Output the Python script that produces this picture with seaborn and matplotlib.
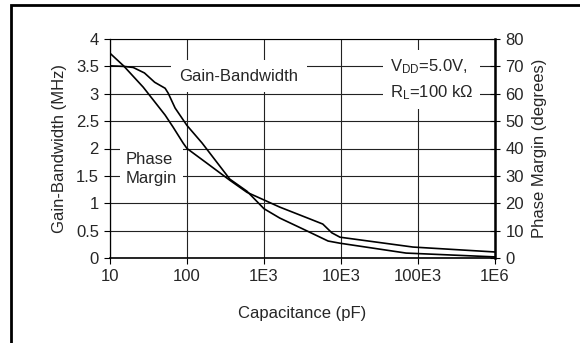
import numpy as np
import pandas as pd
import matplotlib
matplotlib.use("Agg")
import matplotlib.pyplot as plt
from matplotlib.patches import Rectangle
import seaborn as sns

# Gain-bandwidth vs load capacitance (left axis, MHz)
gbw_cap = [10, 15, 20, 28, 38, 52, 57, 70, 100, 157, 360, 600, 1000, 1600,
           3200, 6800, 9700, 70000, 1e6]
gbw_mhz = [3.51, 3.50, 3.48, 3.38, 3.21, 3.10, 3.01, 2.74, 2.42, 2.10, 1.44,
           1.22, 0.90, 0.73, 0.53, 0.31, 0.27, 0.09, 0.02]

# Phase margin vs load capacitance (right axis, degrees)
pm_cap = [10, 15, 27, 52, 66, 89, 100, 182, 360, 600, 1000, 1600, 4000, 5800,
          7600, 9700, 86000, 1e6]
pm_deg = [74.8, 70.2, 62.4, 52.2, 47.8, 42.0, 40.0, 34.6, 28.4, 24.0, 21.2,
          18.6, 14.2, 12.4, 9.2, 7.6, 4.0, 2.2]

x_ticks = [10, 100, 1e3, 1e4, 1e5, 1e6]
x_ticklabels = ["10", "100", "1E3", "10E3", "100E3", "1E6"]
left_ticks = [0, 0.5, 1, 1.5, 2, 2.5, 3, 3.5, 4]
left_ticklabels = ["0", "0.5", "1", "1.5", "2", "2.5", "3", "3.5", "4"]
right_ticks = [0, 10, 20, 30, 40, 50, 60, 70, 80]

sns.set_style("ticks")
plt.rcParams['font.family'] = ['Liberation Sans', 'DejaVu Sans']
plt.rcParams['mathtext.fontset'] = 'custom'
plt.rcParams['mathtext.rm'] = 'Liberation Sans'
plt.rcParams['mathtext.it'] = 'Liberation Sans:italic'
plt.rcParams['font.size'] = 12

gbw_df = pd.DataFrame({"cap": gbw_cap, "gbw": gbw_mhz})
pm_df = pd.DataFrame({"cap": pm_cap, "pm": pm_deg})

fig = plt.figure(figsize=(5.8, 3.43), dpi=100)
ax = fig.add_axes([110 / 580, 1 - 258 / 343, 385 / 580, 219 / 343])
ax.set_xscale("log")
ax2 = ax.twinx()

# Plot the data
sns.lineplot(data=gbw_df, x="cap", y="gbw", ax=ax, color="black", lw=1.2)
sns.lineplot(data=pm_df, x="cap", y="pm", ax=ax2, color="black", lw=1.2)

# scales / ticks
ax.set_xlim(10, 1e6)
ax.set_ylim(0, 4)
ax2.set_ylim(0, 80)
ax.set_xticks(x_ticks)
ax.set_xticklabels(x_ticklabels)
ax.xaxis.set_minor_locator(matplotlib.ticker.NullLocator())
ax.set_yticks(left_ticks)
ax.set_yticklabels(left_ticklabels)
ax2.set_yticks(right_ticks)
ax.tick_params(axis="both", direction="out", length=4, width=0.8, color="black",
               labelsize=12, pad=4)
ax2.tick_params(axis="y", direction="inout", length=7, width=0.8, color="black",
                labelsize=12, pad=4)

# grid
ax.grid(True, which="major", color="#222222", lw=0.8)

# spines
for sp in ["left", "bottom", "top"]:
    ax.spines[sp].set_color("black")
ax.spines["left"].set_linewidth(0.9)
ax.spines["bottom"].set_linewidth(1.2)
ax.spines["top"].set_linewidth(0.8)
ax2.spines["right"].set_linewidth(1.8)
ax2.spines["right"].set_color("black")
for sp in ["left", "bottom", "top"]:
    ax2.spines[sp].set_visible(False)

# labels
ax.set_xlabel("Capacitance (pF)", fontsize=12, labelpad=16)
ax.set_ylabel("Gain-Bandwidth (MHz)", fontsize=12, labelpad=6)
ax2.set_ylabel("Phase Margin (degrees)", fontsize=12, labelpad=6)

# annotations with white boxes over the grid
ax.text(473, 3.32, "Gain-Bandwidth", ha="center", va="center", fontsize=12,
        bbox=dict(facecolor="white", edgecolor="none", pad=6), zorder=3)
ax.text(16.1, 1.63, "Phase\nMargin", ha="left", va="center", fontsize=12,
        linespacing=1.35, bbox=dict(facecolor="white", edgecolor="none", pad=4),
        zorder=3)
ax.text(43300, 3.26, "V$_{\\rm DD}$=5.0V,\nR$_{\\rm L}$=100 k\u03A9", ha="left",
        va="center", fontsize=12, linespacing=1.55,
        bbox=dict(facecolor="white", edgecolor="none", pad=5), zorder=3)

# outer frame
fig.patches.append(Rectangle((11 / 580, -0.5), 2, 0.5 + 1 - 5 / 343, fill=False,
                             lw=2, edgecolor="black", transform=fig.transFigure))

plt.savefig("out.png", dpi=100)
plt.close()
